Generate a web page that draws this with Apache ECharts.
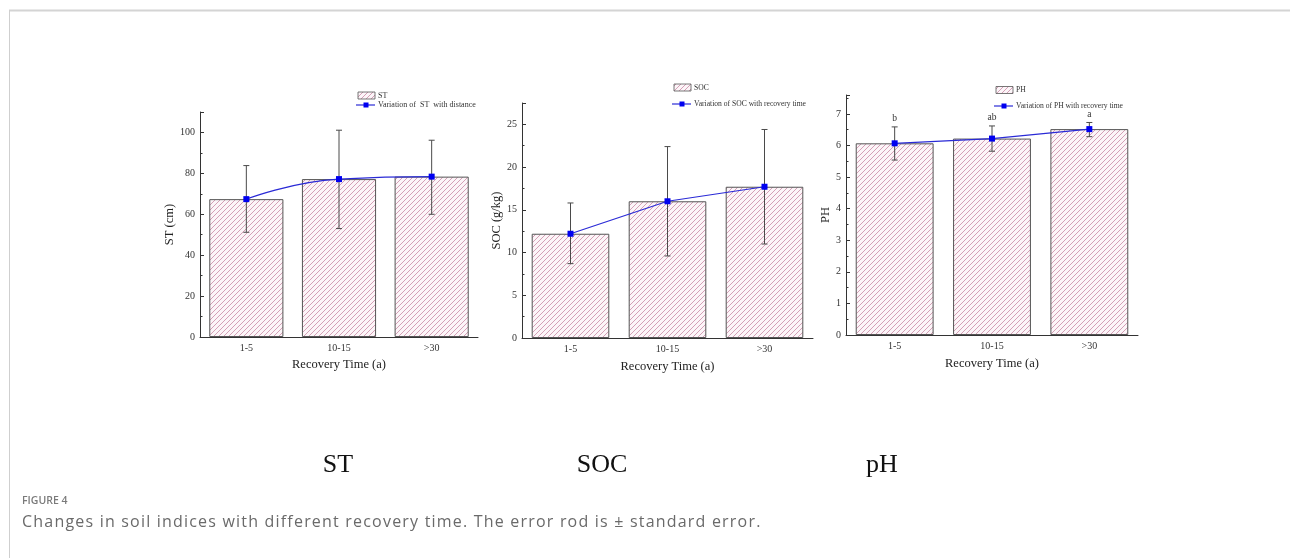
<!DOCTYPE html>
<html><head><meta charset="utf-8">
<script src="https://cdn.jsdelivr.net/npm/echarts@6/dist/echarts.min.js"></script>
<style>
html,body{margin:0;padding:0;background:#fff}
#wrap{position:relative;width:1290px;height:558px}
#c{width:1290px;height:558px}
#cap{position:absolute;left:22px;top:510px;font-family:'Open Sans';font-size:16px;letter-spacing:1.2px;color:#6a6a6a;white-space:nowrap;line-height:22px}
</style>
</head><body><div id="wrap"><div id="c"></div><div id="cap"></div></div>
<script>
// ---- data ----
var categories = ['1-5', '10-15', '>30'];
var stMean = [67.4, 77.2, 78.4];
var stHigh = [83.8, 101.1, 96.2];
var stLow = [51.2, 53.0, 60.0];
var socMean = [12.2, 16.0, 17.7];
var socHigh = [15.8, 22.4, 24.4];
var socLow = [8.7, 9.6, 11.0];
var phMean = [6.07, 6.22, 6.52];
var phHigh = [6.59, 6.62, 6.73];
var phLow = [5.54, 5.82, 6.28];
var phLetters = ['b', 'ab', 'a'];
var captionText = 'Changes in soil indices with different recovery time. The error rod is \u00B1 standard error.';

document.getElementById('cap').textContent = captionText;

// ---- hatch pattern ----
function makeHatch() {
  var s = 5, c = document.createElement('canvas');
  c.width = s; c.height = s;
  var g = c.getContext('2d');
  g.fillStyle = '#fcf5f8'; g.fillRect(0, 0, s, s);
  g.strokeStyle = '#d49fb6'; g.lineWidth = 1;
  g.beginPath();
  g.moveTo(-1, s + 1); g.lineTo(s + 1, -1);
  g.moveTo(-1, 1); g.lineTo(1, -1);
  g.moveTo(s - 1, s + 1); g.lineTo(s + 1, s - 1);
  g.stroke();
  return c;
}
var hatch = makeHatch();
var hatchFill = { image: hatch, repeat: 'repeat' };

var SERIF = 'Liberation Serif';
var AX = '#333';
var BLUE = '#2a2ad6';

var grids = [
  { left: 200, top: 112, width: 278, height: 225 },
  { left: 522, top: 103, width: 291, height: 235 },
  { left: 846, top: 95, width: 292, height: 240 }
];

function mainX(gi, gap) {
  return {
    type: 'category', gridIndex: gi, data: categories, position: 'bottom',
    axisLine: { lineStyle: { color: AX, width: 1 } },
    axisTick: { inside: true, alignWithLabel: true, length: 4, lineStyle: { color: AX } },
    axisLabel: { fontFamily: SERIF, fontSize: 10, color: '#333', margin: 6 },
    name: 'Recovery Time (a)', nameLocation: 'middle', nameGap: gap,
    nameTextStyle: { fontFamily: SERIF, fontSize: 12.5, color: '#222' }
  };
}
function subX(gi) {
  return {
    type: 'category', gridIndex: gi, data: categories, position: 'bottom',
    axisLine: { show: false },
    axisTick: { inside: true, alignWithLabel: false, length: 2, lineStyle: { color: AX } },
    axisLabel: { show: false }
  };
}
function valY(gi, max, interval, name, gap) {
  return {
    type: 'value', gridIndex: gi, min: 0, max: max, interval: interval,
    axisLine: { show: true, lineStyle: { color: AX, width: 1 } },
    axisTick: { show: true, inside: true, length: 4, lineStyle: { color: AX } },
    minorTick: { show: true, splitNumber: 2, length: 2.5, lineStyle: { color: AX } },
    splitLine: { show: false },
    axisLabel: { fontFamily: SERIF, fontSize: 10, color: '#333', margin: 5, showMaxLabel: false },
    name: name, nameLocation: 'middle', nameGap: gap,
    nameTextStyle: { fontFamily: SERIF, fontSize: 12.5, color: '#222' }
  };
}

function barSeries(gi, vals) {
  return {
    type: 'bar', xAxisIndex: gi * 2, yAxisIndex: gi, data: vals, barWidth: '80%',
    itemStyle: { color: hatchFill, borderColor: '#555', borderWidth: 1 }, z: 2, silent: true
  };
}
function errSeries(gi, lo, hi, labels) {
  var data = categories.map(function (c, i) { return [i, lo[i], hi[i]]; });
  return {
    type: 'custom', xAxisIndex: gi * 2, yAxisIndex: gi, data: data, z: 3, silent: true,
    encode: { x: 0, y: [1, 2] },
    renderItem: function (params, api) {
      var i = api.value(0);
      var top = api.coord([i, api.value(2)]);
      var bot = api.coord([i, api.value(1)]);
      var cw = 3;
      var st = { stroke: '#4a4a4a', lineWidth: 1 };
      var ch = [
        { type: 'line', shape: { x1: top[0], y1: top[1], x2: bot[0], y2: bot[1] }, style: st },
        { type: 'line', shape: { x1: top[0] - cw, y1: top[1], x2: top[0] + cw, y2: top[1] }, style: st },
        { type: 'line', shape: { x1: bot[0] - cw, y1: bot[1], x2: bot[0] + cw, y2: bot[1] }, style: st }
      ];
      if (labels) {
        ch.push({ type: 'text', x: top[0], y: top[1] - 3,
          style: { text: labels[params.dataIndex], fontFamily: SERIF, fontSize: 9.5, fill: '#333',
                   align: 'center', verticalAlign: 'bottom' } });
      }
      return { type: 'group', children: ch };
    }
  };
}
function lineSeries(gi, vals, smooth) {
  return {
    type: 'line', xAxisIndex: gi * 2, yAxisIndex: gi, data: vals, smooth: smooth, z: 4, silent: true,
    symbol: 'rect', symbolSize: 6,
    lineStyle: { color: BLUE, width: 1.2 }, itemStyle: { color: '#0000f0' }
  };
}

// ---- legends (graphic) ----
function legend(x, y1, y2, t1, t2, fs) {
  return [
    { type: 'rect', shape: { x: x, y: y1 - 3.5, width: 17, height: 7 },
      style: { fill: hatchFill, stroke: '#555', lineWidth: 0.8 } },
    { type: 'text', x: x + 20, y: y1, style: { text: t1, fontFamily: SERIF, fontSize: fs, fill: '#333', verticalAlign: 'middle' } },
    { type: 'line', shape: { x1: x - 2, y1: y2, x2: x + 17, y2: y2 }, style: { stroke: BLUE, lineWidth: 1.2 } },
    { type: 'rect', shape: { x: x + 5.5, y: y2 - 2.5, width: 5, height: 5 }, style: { fill: '#0000f0' } },
    { type: 'text', x: x + 20, y: y2, style: { text: t2, fontFamily: SERIF, fontSize: fs, fill: '#333', verticalAlign: 'middle' } }
  ];
}

var graphics = [].concat(
  legend(358, 95.5, 105, 'ST', 'Variation of  ST  with distance', 8),
  legend(674, 87.5, 104, 'SOC', 'Variation of SOC with recovery time', 7.6),
  legend(996, 90, 106, 'PH', 'Variation of PH with recovery time', 7.6),
  [
    { type: 'line', shape: { x1: 9, y1: 10.5, x2: 1290, y2: 10.5 }, style: { stroke: '#d4d4d4', lineWidth: 2 } },
    { type: 'line', shape: { x1: 9.5, y1: 10, x2: 9.5, y2: 558 }, style: { stroke: '#cfcfcf', lineWidth: 1 } },
    { type: 'text', x: 338, y: 465, style: { text: 'ST', fontFamily: SERIF, fontSize: 26, fill: '#111', align: 'center', verticalAlign: 'middle' } },
    { type: 'text', x: 602, y: 465, style: { text: 'SOC', fontFamily: SERIF, fontSize: 26, fill: '#111', align: 'center', verticalAlign: 'middle' } },
    { type: 'text', x: 882, y: 465, style: { text: 'pH', fontFamily: SERIF, fontSize: 26, fill: '#111', align: 'center', verticalAlign: 'middle' } },
    { type: 'text', x: 22, y: 501, style: { text: 'FIGURE 4', fontFamily: 'Open Sans', fontSize: 10.5, fontWeight: 600, fill: '#7a7a7a', verticalAlign: 'middle' } }
  ]
);

var option = {
  animation: false,
  backgroundColor: '#fff',
  grid: grids,
  xAxis: [mainX(0, 21), subX(0), mainX(1, 22), subX(1), mainX(2, 22), subX(2)],
  yAxis: [
    valY(0, 110, 20, 'ST (cm)', 22),
    valY(1, 27.5, 5, 'SOC (g/kg)', 18),
    valY(2, 7.6, 1, 'PH', 13)
  ],
  series: [
    barSeries(0, stMean), errSeries(0, stLow, stHigh, null), lineSeries(0, stMean, true),
    barSeries(1, socMean), errSeries(1, socLow, socHigh, null), lineSeries(1, socMean, false),
    barSeries(2, phMean), errSeries(2, phLow, phHigh, phLetters), lineSeries(2, phMean, false)
  ],
  graphic: graphics
};
var chart = echarts.init(document.getElementById('c'), null, { renderer: 'canvas' });
chart.setOption(option);
</script></body></html>
